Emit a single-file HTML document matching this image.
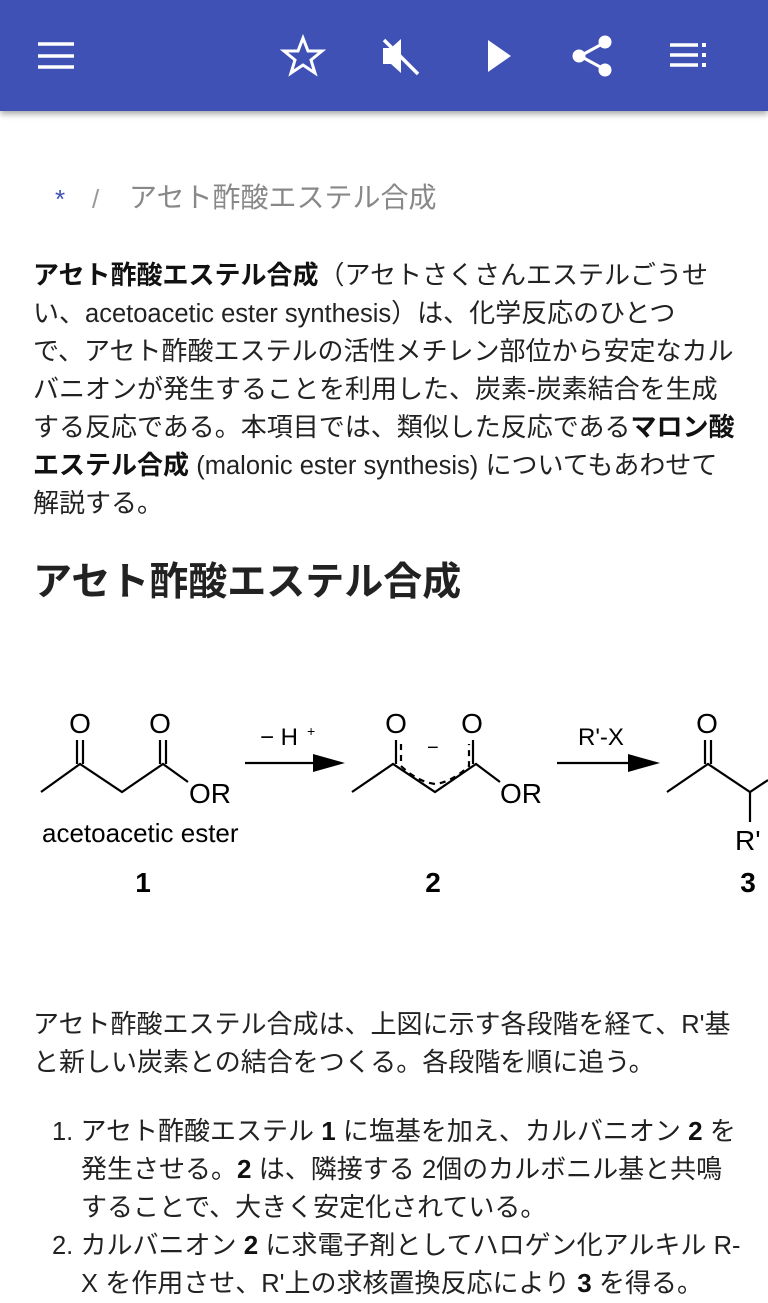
<!DOCTYPE html>
<html><head><meta charset="utf-8"><style>
body{margin:0;width:768px;height:1280px;overflow:hidden;background:#fff;font-family:"Liberation Sans","Noto Sans CJK JP",sans-serif;color:#222;position:relative}
.bar{position:absolute;left:0;top:0;width:768px;height:111px;background:#3f51b5;box-shadow:0 3px 6px rgba(0,0,0,.35)}
.t{position:absolute;white-space:nowrap;font-size:26px;line-height:38px}
.l{font-size:25.5px}
b{font-weight:bold;color:#111}
</style></head><body>
<div class="bar">
<svg width="768" height="111" style="position:absolute;left:0;top:0" fill="#fff" stroke="#fff">
<g stroke-width="3.5"><line x1="38" y1="44" x2="74" y2="44"/><line x1="38" y1="56" x2="74" y2="56"/><line x1="38" y1="67" x2="74" y2="67"/></g>
<polygon points="303,38 308,51 322,51 311,60 315,73 303,65 291,73 295,60 284,51 298,51" fill="none" stroke-width="3"/>
<path d="M383,48h8l10,-9v34l-10,-9h-8z" stroke="none"/>
<line x1="384" y1="40" x2="418" y2="74" stroke-width="3.5"/>
<polygon points="488,40 511,56 488,72" stroke="none"/>
<g stroke-width="3"><line x1="580" y1="56" x2="604" y2="43"/><line x1="580" y1="56" x2="604" y2="69"/></g>
<circle cx="579" cy="56" r="6.5" stroke="none"/><circle cx="605" cy="42" r="6.5" stroke="none"/><circle cx="605" cy="70" r="6.5" stroke="none"/>
<g stroke-width="3.5"><line x1="670" y1="45" x2="698" y2="45"/><line x1="670" y1="55" x2="698" y2="55"/><line x1="670" y1="65" x2="698" y2="65"/></g>
<g stroke="none"><rect x="702" y="43" width="4" height="4"/><rect x="702" y="53" width="4" height="4"/><rect x="702" y="63" width="4" height="4"/></g>
</svg>
</div>
<div class="t" style="left:55px;top:180px;font-size:26px;color:#3f51b5">*</div>
<div class="t" style="left:92px;top:180px;font-size:26px;color:#999">/</div>
<div class="t" style="left:129px;top:179px;font-size:28px;color:#888">アセト酢酸エステル合成</div>

<div class="t" style="left:33px;top:256px"><b>アセト酢酸エステル合成</b>（アセトさくさんエステルごうせ</div>
<div class="t" style="left:33px;top:294px">い、<span class="l">acetoacetic ester synthesis</span>）は、化学反応のひとつ</div>
<div class="t" style="left:33px;top:332px">で、アセト酢酸エステルの活性メチレン部位から安定なカル</div>
<div class="t" style="left:33px;top:370px">バニオンが発生することを利用した、炭素-炭素結合を生成</div>
<div class="t" style="left:33px;top:408px">する反応である。本項目では、類似した反応である<b>マロン酸</b></div>
<div class="t" style="left:33px;top:446px"><b>エステル合成</b> <span class="l">(malonic ester synthesis)</span> についてもあわせて</div>
<div class="t" style="left:33px;top:484px">解説する。</div>

<div class="t" style="left:33px;top:560px;font-size:39px;line-height:46px;font-weight:bold;color:#222">アセト酢酸エステル合成</div>

<svg width="768" height="220" style="position:absolute;left:0;top:690px" font-family="Liberation Sans,sans-serif" fill="#000">
<g stroke="#000" stroke-width="2.2" fill="none">
<polyline points="41,102 80,74 122,102 163,74 188,92"/>
<line x1="77" y1="74" x2="77" y2="50"/><line x1="83" y1="74" x2="83" y2="50"/>
<line x1="160" y1="74" x2="160" y2="50"/><line x1="166" y1="74" x2="166" y2="50"/>
<line x1="245" y1="73" x2="320" y2="73"/>
<polyline points="352,102 393,74 435,102 476,74 500,92"/>
<line x1="396" y1="74" x2="396" y2="50"/><line x1="473" y1="74" x2="473" y2="50"/>
<path d="M401,54 V76 Q418,92 435,94 Q452,92 469,76 V54" stroke-dasharray="6,5"/>
<line x1="557" y1="73" x2="635" y2="73"/>
<polyline points="667,102 708,74 750,102 768,90"/>
<line x1="705" y1="74" x2="705" y2="50"/><line x1="711" y1="74" x2="711" y2="50"/>
<line x1="750" y1="102" x2="750" y2="132"/>
</g>
<polygon points="313,64 345,73 313,82"/>
<polygon points="628,64 660,73 628,82"/>
<g font-size="28">
<text x="80" y="43" text-anchor="middle">O</text>
<text x="160" y="43" text-anchor="middle">O</text>
<text x="189" y="113">OR</text>
<text x="396" y="43" text-anchor="middle">O</text>
<text x="472" y="43" text-anchor="middle">O</text>
<text x="500" y="113">OR</text>
<text x="707" y="43" text-anchor="middle">O</text>
<text x="735" y="160">R'</text>
</g>
<text x="42" y="152" font-size="26">acetoacetic ester</text>
<text x="260" y="55" font-size="24">− H</text><text x="307" y="46" font-size="14">+</text>
<text x="578" y="55" font-size="24">R'-X</text>
<text x="427" y="64" font-size="20">−</text>
<g font-size="28" font-weight="bold" text-anchor="middle">
<text x="143" y="202">1</text><text x="433" y="202">2</text><text x="748" y="202">3</text>
</g>
</svg>

<div class="t" style="left:33px;top:1005px">アセト酢酸エステル合成は、上図に示す各段階を経て、<span class="l">R'</span>基</div>
<div class="t" style="left:33px;top:1043px">と新しい炭素との結合をつくる。各段階を順に追う。</div>
<div class="t" style="left:52px;top:1112px"><span class="l">1.</span> アセト酢酸エステル <b>1</b> に塩基を加え、カルバニオン <b>2</b> を</div>
<div class="t" style="left:81px;top:1150px">発生させる。<b>2</b> は、隣接する <span class="l">2</span>個のカルボニル基と共鳴</div>
<div class="t" style="left:81px;top:1188px">することで、大きく安定化されている。</div>
<div class="t" style="left:52px;top:1226px"><span class="l">2.</span> カルバニオン <b>2</b> に求電子剤としてハロゲン化アルキル <span class="l">R-</span></div>
<div class="t" style="left:81px;top:1264px"><span class="l">X</span> を作用させ、<span class="l">R'</span>上の求核置換反応により <b>3</b> を得る。</div>
</body></html>
